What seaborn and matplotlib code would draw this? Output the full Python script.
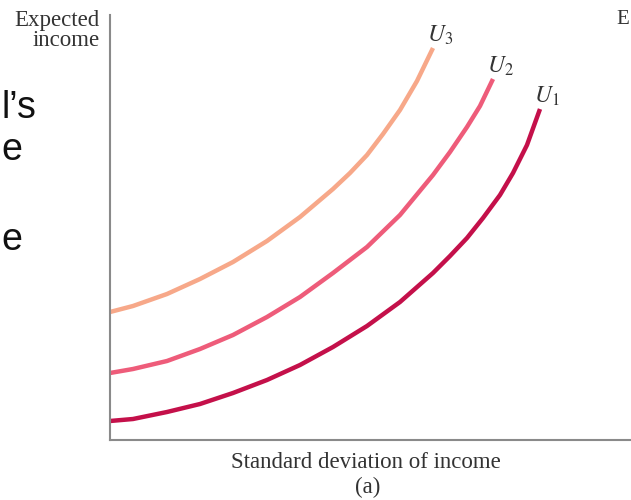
import numpy as np
import pandas as pd
import matplotlib
matplotlib.use("Agg")
import matplotlib.pyplot as plt
import seaborn as sns

# === DATOS: curvas de indiferencia (x = desv. estándar, y = ingreso esperado) ===
u1_x = [0, 23, 57, 90, 123, 157, 190, 223, 257, 290, 323, 340, 357, 373, 390, 403, 417, 430]
u1_y = [19, 21, 28, 36, 47, 60, 75, 93, 114, 138, 167, 184, 202, 222, 245, 267, 295, 331]

u2_x = [0, 23, 57, 90, 123, 157, 190, 223, 257, 290, 323, 340, 357, 370, 383]
u2_y = [67, 71, 79, 91, 105, 123, 143, 167, 193, 225, 265, 288, 313, 334, 361]

u3_x = [0, 23, 57, 90, 123, 157, 190, 223, 240, 257, 273, 290, 307, 323]
u3_y = [128, 134, 146, 161, 178, 199, 223, 251, 267, 285, 306, 330, 359, 392]

curve_names = ["U1", "U2", "U3"]
curve_labels = ["$U_1$", "$U_2$", "$U_3$"]
curve_colors = ["#C4104A", "#EE5C7A", "#F7A889"]

df = pd.concat([
    pd.DataFrame({"sd": u1_x, "ingreso": u1_y, "curva": "U1"}),
    pd.DataFrame({"sd": u2_x, "ingreso": u2_y, "curva": "U2"}),
    pd.DataFrame({"sd": u3_x, "ingreso": u3_y, "curva": "U3"}),
])

# === ESTILO ===
sns.set_theme(style="white")
plt.rcParams["font.family"] = ["Liberation Serif", "DejaVu Serif"]
plt.rcParams["mathtext.fontset"] = "stix"

fig = plt.figure(figsize=(6.31, 5.0), dpi=100)
ax = fig.add_axes([110 / 631, 60 / 500, 521 / 631, 425 / 500])

sns.lineplot(data=df, x="sd", y="ingreso", hue="curva", hue_order=curve_names,
             palette=curve_colors, linewidth=3.2, sort=False, legend=False,
             estimator=None, ax=ax)
for line in ax.lines:
    line.set_solid_capstyle("butt")
    line.set_solid_joinstyle("round")

ax.set_xlim(0, 521)
ax.set_ylim(0, 425)
ax.set_xticks([])
ax.set_yticks([])
ax.set_xlabel("")
ax.set_ylabel("")
for s in ["top", "right"]:
    ax.spines[s].set_visible(False)
for s in ["left", "bottom"]:
    ax.spines[s].set_color("#8a8a8a")
    ax.spines[s].set_linewidth(1.5)

# etiquetas de las curvas al final de cada una
for xs, ys, lab in zip([u1_x, u2_x, u3_x], [u1_y, u2_y, u3_y], curve_labels):
    ax.text(xs[-1] - 6, ys[-1] + 1, lab, fontsize=17, color="#333333",
            ha="left", va="bottom")

# textos de los ejes
fig.text(100 / 631, 1 - 10 / 500, "Expected\nincome", ha="right", va="top",
         fontsize=16.5, color="#333333", linespacing=0.95)
fig.text(366 / 631, 1 - 463 / 500, "Standard deviation of income", ha="center",
         va="center", fontsize=16.5, color="#333333")
fig.text(368 / 631, 1 - 487 / 500, "(a)", ha="center", va="center",
         fontsize=16.5, color="#333333")

# restos de la diapositiva original
fig.text(616 / 631, 1 - 20 / 500, "E", ha="left", va="center", fontsize=15, color="#333333")
for txt, yb in [("l\u2019s", 118), ("e", 160), ("e", 250)]:
    fig.text(1 / 631, 1 - yb / 500, txt, ha="left", va="baseline", fontsize=27,
             color="#111111", family=["Liberation Sans", "DejaVu Sans"])

fig.savefig("out.png", dpi=100)
